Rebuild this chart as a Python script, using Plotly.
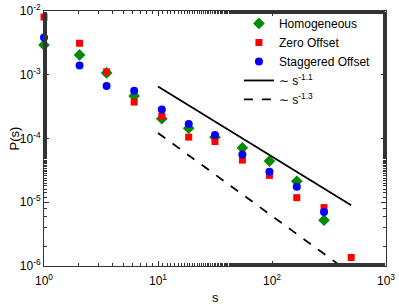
import plotly.graph_objects as go

s = [1, 2.05, 3.54, 6.18, 10.8, 18.6, 31.6, 55, 95, 165, 286, 495]

homogeneous = [2.94e-3, 2.05e-3, 1.07e-3, 4.64e-4, 2.05e-4, 1.45e-4, 1.05e-4, 7.13e-5, 4.42e-5, 2.13e-5, 5.24e-6, None]
zero_offset = [8.05e-3, 3.12e-3, 1.11e-3, 3.73e-4, 2.23e-4, 1.05e-4, 8.98e-5, 4.58e-5, 2.64e-5, 1.18e-5, 8.24e-6, 1.36e-6]
staggered = [3.83e-3, 1.40e-3, 6.64e-4, 5.62e-4, 2.84e-4, 1.69e-4, 1.13e-4, 5.62e-5, 3.01e-5, 1.75e-5, 7.05e-6, None]

fit_s = [10, 495]
fit_11 = [6.56e-4, 8.98e-6]
fit_13 = [1.22e-4, 7.6e-7]

x_tickvals = [1, 10, 100, 1000]
x_ticktext = ["10<sup>0</sup>", "10<sup>1</sup>", "10<sup>2</sup>", "10<sup>3</sup>"]
y_tickvals = [1e-6, 1e-5, 1e-4, 1e-3, 1e-2]
y_ticktext = ["10<sup>-6</sup>", "10<sup>-5</sup>", "10<sup>-4</sup>", "10<sup>-3</sup>", "10<sup>-2</sup>"]

FONT = "Liberation Sans, Arial, sans-serif"

fig = go.Figure()
fig.add_trace(go.Scatter(x=s, y=homogeneous, mode="markers", name="Homogeneous", cliponaxis=False,
                         marker=dict(symbol="diamond", size=9, color="#008c00")))
fig.add_trace(go.Scatter(x=s, y=zero_offset, mode="markers", name="Zero Offset", cliponaxis=False,
                         marker=dict(symbol="square", size=7, color="#ff0000")))
fig.add_trace(go.Scatter(x=s, y=staggered, mode="markers", name="Staggered Offset", cliponaxis=False,
                         marker=dict(symbol="circle", size=8, color="#0000ff")))
fig.add_trace(go.Scatter(x=fit_s, y=fit_11, mode="lines", name="∼ s<sup>-1.1</sup>",
                         line=dict(color="black", width=1.8)))
fig.add_trace(go.Scatter(x=fit_s, y=fit_13, mode="lines", name="∼ s<sup>-1.3</sup>",
                         line=dict(color="black", width=1.8, dash="dash")))

axis_common = dict(
    showline=True, linecolor="#333", linewidth=1, mirror="ticks",
    ticks="inside", ticklen=5, tickcolor="#333", showgrid=False, zeroline=False,
    automargin=False,
    tickfont=dict(family=FONT, size=12, color="black"),
    minor=dict(ticks="inside", ticklen=3, tickcolor="#333", showgrid=False),
)

fig.update_xaxes(type="log", range=[0, 3], tickvals=x_tickvals, ticktext=x_ticktext,
                 ticklabelstandoff=4, **axis_common)
fig.update_yaxes(type="log", range=[-6, -2], tickvals=y_tickvals, ticktext=y_ticktext, **axis_common)

fig.add_annotation(text="s", xref="paper", yref="paper", x=0.502, y=-0.125,
                   xanchor="center", yanchor="middle", showarrow=False,
                   font=dict(family=FONT, size=13, color="black"))
fig.add_annotation(text="P(s)", xref="paper", yref="paper", x=-0.085, y=0.5,
                   xanchor="center", yanchor="middle", showarrow=False, textangle=-90,
                   font=dict(family=FONT, size=13, color="black"))

fig.update_layout(
    width=399, height=306,
    margin=dict(l=44, r=13, t=9, b=40),
    paper_bgcolor="white", plot_bgcolor="white",
    font=dict(family=FONT, size=12, color="black"),
    legend=dict(x=0.57, y=1.008, xanchor="left", yanchor="top",
                bgcolor="rgba(0,0,0,0)", font=dict(family=FONT, size=12),
                tracegroupgap=0, itemwidth=30),
    showlegend=True,
)

fig.write_html("out.html", config={"displayModeBar": False},
               post_script="document.body.style.margin='0px';")
